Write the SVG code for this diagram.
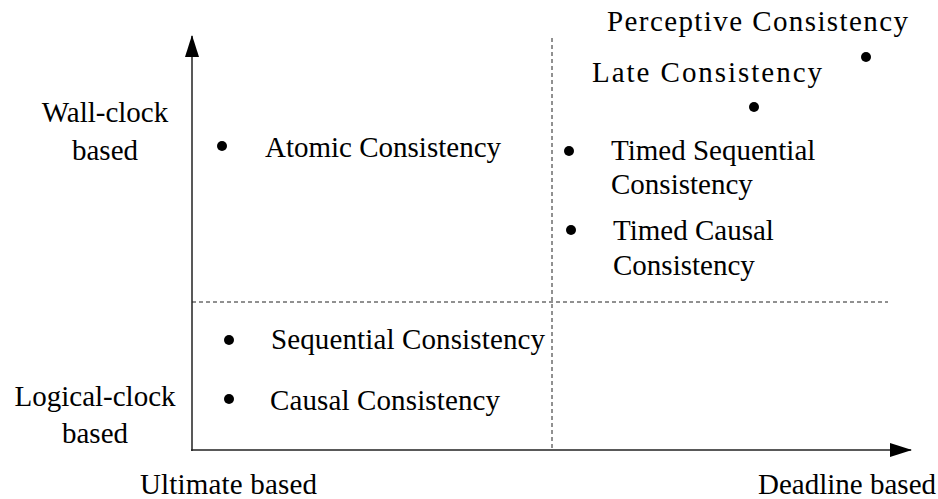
<svg xmlns="http://www.w3.org/2000/svg" width="938" height="499" viewBox="0 0 938 499">
  <style>
    text { font-family: "Liberation Serif", "Times New Roman", serif; font-size: 29px; fill: #000; }
    .axis { stroke: #222; stroke-width: 1.5; fill: none; }
    .grid { stroke: #222; stroke-width: 1; stroke-dasharray: 4 3; fill: none; }
    .dot { fill: #000; }
  </style>
  <defs>
    <marker id="arrow" markerUnits="userSpaceOnUse" markerWidth="22" markerHeight="14" refX="21" refY="7" orient="auto">
      <path d="M0,0 L22,7 L0,14 Z" fill="#000"/>
    </marker>
  </defs>

  <!-- axes and quadrant dividers -->
  <g id="connectors">
    <line class="grid" x1="552" y1="38" x2="552" y2="450"/>
    <line class="grid" x1="192" y1="302" x2="888" y2="302"/>
    <line class="axis" x1="192" y1="451" x2="192" y2="36" marker-end="url(#arrow)"/>
    <line class="axis" x1="191" y1="450" x2="911" y2="450" marker-end="url(#arrow)"/>
  </g>

  <!-- axis labels -->
  <g id="label-wallclock">
    <text x="105" y="122" text-anchor="middle">Wall-clock</text>
    <text x="105" y="160" text-anchor="middle">based</text>
  </g>
  <g id="label-logicalclock">
    <text x="95" y="406" text-anchor="middle">Logical-clock</text>
    <text x="95" y="443" text-anchor="middle">based</text>
  </g>
  <g id="label-ultimate">
    <text x="140" y="494" textLength="177" lengthAdjust="spacing">Ultimate based</text>
  </g>
  <g id="label-deadline">
    <text x="936" y="494" text-anchor="end">Deadline based</text>
  </g>

  <!-- consistency models -->
  <g id="perceptive">
    <text x="607" y="31" textLength="301" lengthAdjust="spacing">Perceptive Consistency</text>
    <circle class="dot" cx="866" cy="57" r="5"/>
  </g>
  <g id="late">
    <text x="592" y="82" textLength="230" lengthAdjust="spacing">Late Consistency</text>
    <circle class="dot" cx="754" cy="107" r="5"/>
  </g>
  <g id="atomic">
    <circle class="dot" cx="222" cy="146" r="5"/>
    <text x="265" y="157">Atomic Consistency</text>
  </g>
  <g id="timed-sequential">
    <circle class="dot" cx="569" cy="151" r="5"/>
    <text x="611" y="160">Timed Sequential</text>
    <text x="611" y="194">Consistency</text>
  </g>
  <g id="timed-causal">
    <circle class="dot" cx="571" cy="230" r="5"/>
    <text x="613" y="240">Timed Causal</text>
    <text x="613" y="275">Consistency</text>
  </g>
  <g id="sequential">
    <circle class="dot" cx="229" cy="340" r="5"/>
    <text x="271" y="349" textLength="274" lengthAdjust="spacing">Sequential Consistency</text>
  </g>
  <g id="causal">
    <circle class="dot" cx="229" cy="399" r="5"/>
    <text x="270" y="410" textLength="230" lengthAdjust="spacing">Causal Consistency</text>
  </g>
</svg>
